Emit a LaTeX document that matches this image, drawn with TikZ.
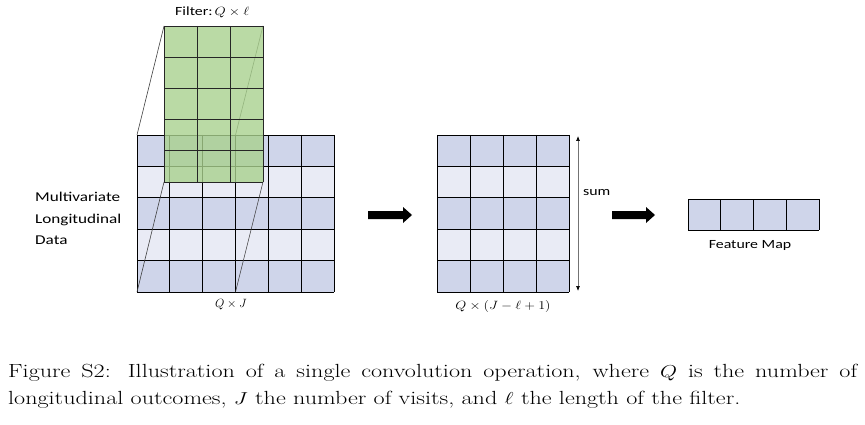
\documentclass[tikz,border=0pt]{standalone}
\usepackage{graphicx}
\usepackage{fontspec}
\newfontfamily\calib{Carlito}
\usetikzlibrary{arrows.meta,calc}
\definecolor{darkrow}{RGB}{207,213,234}
\definecolor{lightrow}{RGB}{233,235,245}
\definecolor{filtgreen}{RGB}{169,209,142}
\newcommand{\hstr}[2][1.27]{\scalebox{#1}[1]{#2}}
\begin{document}
\begin{tikzpicture}[x=1pt,y=-1pt,
  gridline/.style={draw=black,line width=0.8pt},
  proj/.style={draw=black!75,line width=0.6pt},
  lblb/.style={font=\calib\fontsize{12.5}{14}\selectfont,inner sep=0pt},
  bigarrow/.style={fill=black,draw=none},
  box/.style={rectangle,draw=none,inner sep=0pt,outer sep=0pt}]
\useasboundingbox (0,0) rectangle (865,425);
% ---------- data grid 6x5 ----------
\def\cw{32.83}\def\ch{31.4}
\node[box,minimum width=197pt,minimum height=157pt,anchor=north west] (data) at (137,135) {};
\foreach \r in {0,...,4}{
  \pgfmathtruncatemacro\odd{mod(\r,2)}
  \ifnum\odd=0 \def\rc{darkrow}\else\def\rc{lightrow}\fi
  \fill[\rc] (137,135+\r*\ch) rectangle (334,135+\r*\ch+\ch);
}
\foreach \c in {0,...,6}{\draw[gridline] (137+\c*\cw,135) -- (137+\c*\cw,292);}
\foreach \r in {0,...,5}{\draw[gridline] (137,135+\r*\ch) -- (334,135+\r*\ch);}
% ---------- filter node ----------
\node[box,minimum width=99pt,minimum height=156pt,anchor=north west] (filter) at (164,26) {};
\coordinate (dTR) at (235.5,135);
\coordinate (dBR) at (235.5,292);
% projection lines
\draw[proj] (filter.north west) -- (data.north west);
\draw[proj] (filter.south west) -- (data.south west);
\draw[proj] (filter.north east) -- (dTR);
\draw[proj] (filter.south east) -- (dBR);
% filter body
\fill[filtgreen,opacity=0.8] (filter.north west) rectangle (filter.south east);
\foreach \c in {0,...,3}{\draw[black!85,line width=0.9pt] (164+\c*33,26) -- (164+\c*33,182);}
\foreach \r in {0,...,5}{\draw[black!85,line width=0.9pt] (164,26+\r*31.2) -- (263,26+\r*31.2);}
\node[lblb,anchor=base west] (filtlbl) at (175,16) {\hstr{Filter:}\hspace{2pt}\hstr[1.2]{$Q\times\ell$}};
\node[lblb,anchor=base] (qj) at (231,307) {$Q\times J$};
% ---------- left label ----------
\node[anchor=west,inner sep=0pt,font=\calib\fontsize{13.5}{21.5}\selectfont] (mld) at (35,219) {\hstr{\begin{tabular}{@{}l@{}}Multivariate\\Longitudinal\\Data\end{tabular}}};
% ---------- arrow 1 ----------
\coordinate (a1s) at (368,215);
\coordinate (a1e) at (412,215);
\fill[bigarrow] ($(a1s)+(0,-4)$) -- ($(a1e)+(-9,-4)$) -- ($(a1e)+(-9,-8)$) -- (a1e) -- ($(a1e)+(-9,8)$) -- ($(a1e)+(-9,4)$) -- ($(a1s)+(0,4)$) -- cycle;
% ---------- second grid 4x5 ----------
\node[box,minimum width=132pt,minimum height=157pt,anchor=north west] (conv) at (437,135) {};
\foreach \r in {0,...,4}{
  \pgfmathtruncatemacro\odd{mod(\r,2)}
  \ifnum\odd=0 \def\rc{darkrow}\else\def\rc{lightrow}\fi
  \fill[\rc] (437,135+\r*\ch) rectangle (569,135+\r*\ch+\ch);
}
\foreach \c in {0,...,4}{\draw[gridline] (437+\c*33,135) -- (437+\c*33,292);}
\foreach \r in {0,...,5}{\draw[gridline] (437,135+\r*\ch) -- (569,135+\r*\ch);}
\node[lblb,anchor=base] (convlbl) at (503,309) {\hstr[1.18]{$Q\times(J-\ell+1)$}};
% sum arrow
\coordinate (st) at (578,136);
\coordinate (sb) at (578,291);
\draw[black!55,line width=0.7pt,{Latex[black,length=5pt,width=4pt]}-{Latex[black,length=5pt,width=4pt]}] (st) -- (sb);
\node[lblb,anchor=base west] (sum) at (583,196) {\hstr{sum}};
% ---------- arrow 2 ----------
\coordinate (a2s) at (612,215);
\coordinate (a2e) at (655,215);
\fill[bigarrow] ($(a2s)+(0,-4)$) -- ($(a2e)+(-9,-4)$) -- ($(a2e)+(-9,-8)$) -- (a2e) -- ($(a2e)+(-9,8)$) -- ($(a2e)+(-9,4)$) -- ($(a2s)+(0,4)$) -- cycle;
% ---------- feature map ----------
\node[box,minimum width=131pt,minimum height=31pt,anchor=north west,fill=darkrow] (fmap) at (688,199) {};
\foreach \c in {0,...,4}{\draw[gridline] (688+\c*32.75,199) -- (688+\c*32.75,230);}
\draw[gridline] (688,199) -- (819,199) (688,230) -- (819,230);
\node[lblb,anchor=base] (fmlbl) at (750,248) {\hstr{Feature Map}};
% ---------- caption ----------
\node[anchor=north west,inner sep=0pt] (cap) at (8,364) {\hstr{\parbox[t]{668.5pt}{\fontsize{19}{26.5}\selectfont Figure S2: Illustration of a single convolution operation, where $Q$ is the number of longitudinal outcomes, $J$ the number of visits, and $\ell$ the length of the filter.}}};
\end{tikzpicture}
\end{document}
